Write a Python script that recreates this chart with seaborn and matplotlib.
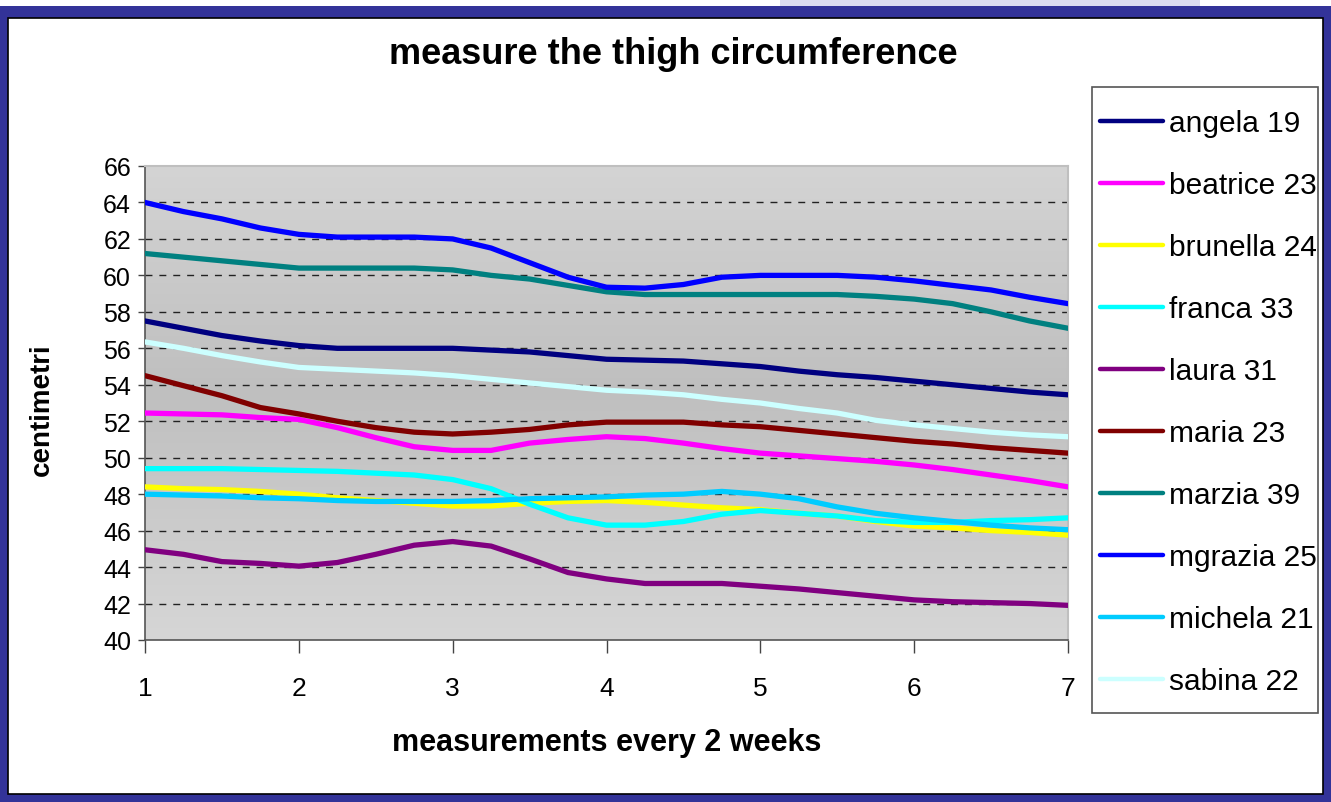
"""Thigh circumference over the measurement weeks, one line per person."""

import matplotlib.pyplot as plt
import numpy as np
import pandas as pd
import seaborn as sns
from matplotlib.patches import Rectangle

# measurement positions on the axis (quarter steps between the labelled measurements)
positions = np.arange(1, 7.001, 0.25)

angela = [57.5, 57.1, 56.7, 56.4, 56.15, 56.0, 56.0, 56.0, 56.0, 55.9, 55.8, 55.6, 55.4,
          55.35, 55.3, 55.15, 55.0, 54.75, 54.55, 54.4, 54.2, 54.0, 53.8, 53.6, 53.45]
beatrice = [52.45, 52.4, 52.35, 52.2, 52.1, 51.65, 51.1, 50.6, 50.4, 50.4, 50.8, 51.0, 51.15,
            51.05, 50.8, 50.5, 50.25, 50.1, 49.95, 49.8, 49.6, 49.35, 49.05, 48.75, 48.4]
brunella = [48.4, 48.3, 48.25, 48.15, 48.0, 47.8, 47.65, 47.5, 47.35, 47.35, 47.5, 47.6, 47.65,
            47.55, 47.4, 47.25, 47.15, 46.95, 46.8, 46.5, 46.25, 46.15, 46.0, 45.9, 45.75]
franca = [49.4, 49.4, 49.4, 49.35, 49.3, 49.25, 49.15, 49.05, 48.8, 48.3, 47.45, 46.7, 46.3,
          46.3, 46.5, 46.9, 47.1, 46.95, 46.8, 46.55, 46.45, 46.45, 46.55, 46.6, 46.7]
laura = [44.95, 44.7, 44.3, 44.2, 44.05, 44.25, 44.7, 45.2, 45.4, 45.15, 44.45, 43.7, 43.35,
         43.1, 43.1, 43.1, 42.95, 42.8, 42.6, 42.4, 42.2, 42.1, 42.05, 42.0, 41.9]
maria = [54.5, 53.95, 53.4, 52.75, 52.4, 52.0, 51.65, 51.4, 51.3, 51.4, 51.55, 51.8, 51.95,
         51.95, 51.95, 51.8, 51.7, 51.5, 51.3, 51.1, 50.9, 50.75, 50.55, 50.4, 50.25]
marzia = [61.2, 61.0, 60.8, 60.6, 60.4, 60.4, 60.4, 60.4, 60.3, 60.0, 59.8, 59.45, 59.1,
          58.95, 58.95, 58.95, 58.95, 58.95, 58.95, 58.85, 58.7, 58.45, 58.0, 57.5, 57.1]
mgrazia = [64.0, 63.5, 63.1, 62.6, 62.25, 62.1, 62.1, 62.1, 62.0, 61.5, 60.7, 59.9, 59.35,
           59.3, 59.5, 59.9, 60.0, 60.0, 60.0, 59.9, 59.7, 59.45, 59.2, 58.8, 58.45]
michela = [48.0, 47.95, 47.9, 47.8, 47.75, 47.65, 47.6, 47.6, 47.6, 47.65, 47.75, 47.8, 47.85,
           47.95, 48.0, 48.15, 48.0, 47.75, 47.3, 46.95, 46.7, 46.5, 46.3, 46.15, 46.05]
sabina = [56.35, 56.0, 55.6, 55.25, 54.95, 54.85, 54.75, 54.65, 54.5, 54.3, 54.1, 53.9, 53.7,
          53.6, 53.45, 53.2, 53.0, 52.7, 52.45, 52.05, 51.8, 51.6, 51.4, 51.25, 51.15]

names = ["angela 19", "beatrice 23", "brunella 24", "franca 33", "laura 31",
         "maria 23", "marzia 39", "mgrazia 25", "michela 21", "sabina 22"]
series = [angela, beatrice, brunella, franca, laura, maria, marzia, mgrazia, michela, sabina]
colors = ["#000080", "#FF00FF", "#FFFF00", "#00FFFF", "#800080",
          "#800000", "#008080", "#0000FF", "#00CCFF", "#CCFFFF"]

y_ticks = list(range(40, 67, 2))
x_ticks = [1, 2, 3, 4, 5, 6, 7]

W, H = 1331, 803


def build_frame() -> pd.DataFrame:
    rows = []
    for name, vals in zip(names, series):
        for x, v in zip(positions, vals):
            rows.append({"week": x, "cm": v, "name": name})
    return pd.DataFrame(rows)


def main():
    sns.set_style("white")
    plt.rcParams["font.family"] = ["Liberation Sans", "DejaVu Sans"]
    plt.rcParams["text.color"] = "black"
    plt.rcParams["xtick.color"] = "black"
    plt.rcParams["ytick.color"] = "black"

    df = build_frame()

    fig = plt.figure(figsize=(W / 100, H / 100), dpi=100)
    fig.patch.set_facecolor("white")

    # slide frame
    fig.patches.append(Rectangle((0, 0), 1, 1 - 7 / H, transform=fig.transFigure,
                                 facecolor="#333399", edgecolor="none", zorder=-10))
    fig.patches.append(Rectangle((8 / W, 8 / H), (W - 16) / W, (H - 27) / H,
                                 transform=fig.transFigure, facecolor="white",
                                 edgecolor="black", linewidth=1.2, zorder=-9))
    fig.patches.append(Rectangle((780 / W, 1 - 7 / H), 420 / W, 7 / H, transform=fig.transFigure,
                                 facecolor="#dcdcf0", edgecolor="none", zorder=-10))

    ax = fig.add_axes([145 / W, 1 - 641 / H, 923 / W, 474 / H])

    # grey gradient behind the plot
    grad = np.interp(np.linspace(0, 1, 256), [0, 0.47, 1], [212, 191, 214]) / 255
    grad_img = np.repeat(grad[:, None], 3, axis=1)[:, None, :]
    ax.imshow(grad_img, extent=[0, 1, 0, 1], transform=ax.transAxes,
              aspect="auto", zorder=0, interpolation="bilinear")

    sns.lineplot(data=df, x="week", y="cm", hue="name", hue_order=names,
                 palette=dict(zip(names, colors)), linewidth=3.8, ax=ax,
                 zorder=3, legend=False)

    ax.set_xlim(1, 7)
    ax.set_ylim(40, 66)
    ax.set_yticks(y_ticks)
    ax.set_xticks(x_ticks)
    for y in y_ticks[1:-1]:
        ax.axhline(y, color="#222222", linewidth=1.0, linestyle=(0, (5, 5)), zorder=1)

    ax.tick_params(axis="y", direction="out", length=5, width=1, color="#444444",
                   labelsize=18, pad=5, left=True)
    ax.tick_params(axis="x", direction="out", length=9, width=1, color="#444444",
                   labelsize=19, pad=17, bottom=True)
    for side in ["left", "bottom"]:
        ax.spines[side].set_color("#555555")
        ax.spines[side].set_linewidth(1.2)
    for side in ["top", "right"]:
        ax.spines[side].set_color("#bfbfbf")
        ax.spines[side].set_linewidth(1.5)
    ax.set_xlabel("")
    ax.set_ylabel("")

    fig.text(673 / W, 1 - 55 / H, "measure the thigh circumference", ha="center",
             va="center", fontsize=26, fontweight="bold")
    fig.text(607 / W, 1 - 743 / H, "measurements every 2 weeks", ha="center",
             va="center", fontsize=22, fontweight="bold")
    fig.text(42 / W, 1 - 410 / H, "centimetri", ha="center", va="center",
             rotation=90, fontsize=20, fontweight="bold")

    # legend box drawn by hand, entries placed inside it
    fig.patches.append(Rectangle((1092 / W, 1 - 714 / H), 226 / W, 626 / H,
                                 transform=fig.transFigure, facecolor="white",
                                 edgecolor="#555555", linewidth=1.2, zorder=1))
    handles = [plt.Line2D([], [], color=c, linewidth=3.2, solid_capstyle="round")
               for c in colors]
    fig.legend(handles, names, loc="upper left",
               bbox_to_anchor=(1100 / W, 1 - 110 / H), frameon=False,
               fontsize=21.5, handlelength=2.1, handletextpad=0.22,
               labelspacing=1.14, borderpad=0, borderaxespad=0)

    fig.savefig("out.png", dpi=100)
    plt.close(fig)


if __name__ == "__main__":
    main()
